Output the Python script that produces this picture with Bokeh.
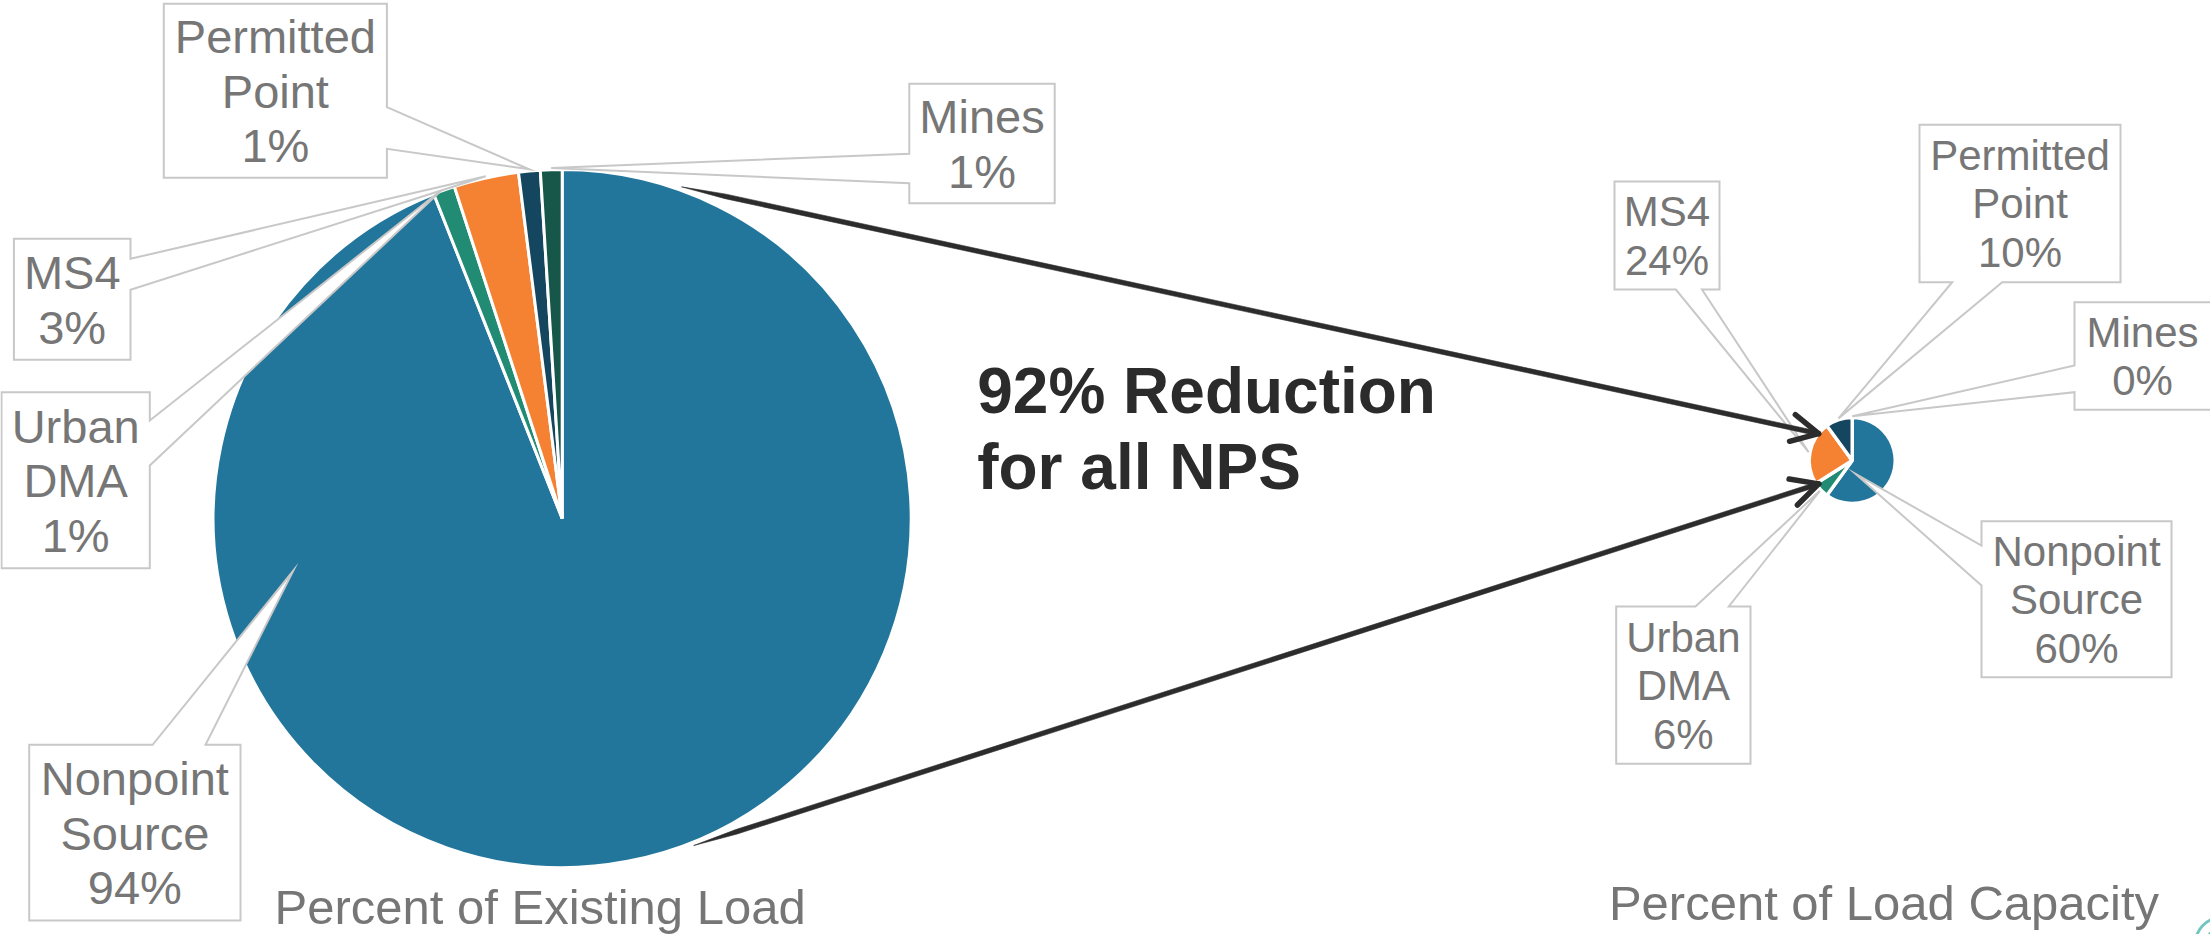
import math

from bokeh.core.properties import value
from bokeh.embed import file_html
from bokeh.models import ColumnDataSource, Range1d
from bokeh.plotting import figure
from bokeh.resources import INLINE

W, H = 2210, 934

# ---- data -------------------------------------------------------------
categories = ["Nonpoint Source", "Urban DMA", "MS4", "Permitted Point", "Mines"]
label_lines = [["Nonpoint", "Source"], ["Urban", "DMA"], ["MS4"], ["Permitted", "Point"], ["Mines"]]
existing_load_pct = [94, 1, 3, 1, 1]
load_capacity_pct = [60, 6, 24, 10, 0]
slice_colors = ["#23769B", "#228B74", "#F58233", "#15465F", "#16574A"]
reduction_text = ["92% Reduction", "for all NPS"]
chart_titles = ["Percent of Existing Load", "Percent of Load Capacity"]

FONT = "Liberation Sans"
LABEL_GRAY = "#767676"
BOX_GRAY = "#C8C8C8"
ARROW_COLOR = "#2C2C2C"
BASELINE_FIX = 0.35  # the renderer puts the text centre on y; move it up to land on the baseline

# ---- layout (screen pixels, y downwards) ------------------------------
existing_pie = dict(cx=561.7, cy=518.0, r=349.0, border=3.0, font=47, spacing=54.5, tip_frac=1.005)
capacity_pie = dict(cx=1851.7, cy=460.0, r=43.0, border=3.4, font=42, spacing=48.5, tip_frac=1.03)

# box = (left, top, right, bottom); edge and base give where the pointer leaves the box;
# tip = optional (clock angle, radius fraction) where the pointer ends
existing_callouts = [
    dict(box=(28.7, 744.3, 240.0, 920.0), edge="top", base=(152.1, 205.0), tip=(259.0, 0.785)),
    dict(box=(1.0, 391.7, 149.3, 567.7), edge="right", base=(420.0, 465.0), tip=None),
    dict(box=(13.4, 238.3, 130.0, 359.3), edge="right", base=(258.3, 289.3), tip=None),
    dict(box=(163.3, 3.3, 386.4, 177.3), edge="right", base=(106.7, 148.3), tip=None),
    dict(box=(908.8, 83.3, 1054.2, 202.7), edge="left", base=(153.3, 182.7), tip=None),
]
capacity_callouts = [
    dict(box=(1981.0, 520.7, 2171.0, 676.7), edge="left", base=(545.0, 585.0), tip=(166.0, 0.32)),
    dict(box=(1615.7, 606.0, 1750.0, 763.3), edge="top", base=(1695.0, 1728.3), tip=None),
    dict(box=(1614.0, 181.0, 1719.0, 289.0), edge="bottom", base=(1675.4, 1701.5), tip=None),
    dict(box=(1919.0, 124.3, 2120.0, 281.7), edge="bottom", base=(1951.7, 2001.7), tip=None),
    dict(box=(2074.0, 301.7, 2216.0, 409.3), edge="left", base=(365.0, 391.7), tip=None),
]

# arrows: (clock angle, radius fraction) on the large pie -> same on the small pie
arrow_paths = [((19.8, 1.01), (308.6, 1.0)), ((158.1, 1.01), (235.1, 0.95))]


def polar(cx, cy, r, a_deg):
    """Point at clock angle a (degrees clockwise from 12 o'clock), screen coords."""
    a = math.radians(a_deg)
    return cx + r * math.sin(a), cy - r * math.cos(a)


def flip(ys):
    return [H - y for y in ys]


def text_y(baseline, size):
    return H - (baseline - BASELINE_FIX * size)


p = figure(
    width=W, height=H,
    x_range=Range1d(0, W), y_range=Range1d(0, H),
    output_backend="svg", toolbar_location=None,
    x_axis_location=None, y_axis_location=None,
    min_border=0,
)
p.grid.visible = False
p.outline_line_color = None
p.background_fill_color = "white"
p.border_fill_color = "white"


def draw_pie(cfg, values):
    total = float(sum(values))
    cum = 0.0
    starts, ends, cols, mids = [], [], [], []
    for v, c in zip(values, slice_colors):
        c0 = cum / total
        cum += v
        c1 = cum / total
        mids.append(360.0 * (c0 + c1) / 2.0)
        if v > 0:
            starts.append(math.radians(90.0 - 360.0 * c1))
            ends.append(math.radians(90.0 - 360.0 * c0))
            cols.append(c)
    src = ColumnDataSource(dict(start=starts, end=ends, color=cols))
    p.wedge(x=cfg["cx"], y=H - cfg["cy"], radius=cfg["r"],
            start_angle="start", end_angle="end", fill_color="color",
            line_color="white", line_width=cfg["border"], source=src)
    return mids


def callout_polygon(box, edge, base, tip):
    x0, y0, x1, y1 = box
    b0, b1 = base
    tx, ty = tip
    if edge == "top":
        pts = [(x0, y0), (b0, y0), (tx, ty), (b1, y0), (x1, y0), (x1, y1), (x0, y1)]
    elif edge == "right":
        pts = [(x0, y0), (x1, y0), (x1, b0), (tx, ty), (x1, b1), (x1, y1), (x0, y1)]
    elif edge == "bottom":
        pts = [(x0, y0), (x1, y0), (x1, y1), (b1, y1), (tx, ty), (b0, y1), (x0, y1)]
    else:
        pts = [(x0, y0), (x1, y0), (x1, y1), (x0, y1), (x0, b1), (tx, ty), (x0, b0)]
    return [q[0] for q in pts], flip([q[1] for q in pts])


def draw_callouts(cfg, values, mids, callouts):
    xs, ys = [], []
    tx, ty, tt = [], [], []
    f, s = cfg["font"], cfg["spacing"]
    for i, co in enumerate(callouts):
        if co["tip"] is None:
            tip = polar(cfg["cx"], cfg["cy"], cfg["r"] * cfg["tip_frac"], mids[i])
        else:
            tip = polar(cfg["cx"], cfg["cy"], cfg["r"] * co["tip"][1], co["tip"][0])
        px, py = callout_polygon(co["box"], co["edge"], co["base"], tip)
        xs.append(px)
        ys.append(py)
        lines = label_lines[i] + ["%d%%" % values[i]]
        x0, y0, x1, y1 = co["box"]
        bx, by = (x0 + min(x1, W)) / 2.0, (y0 + y1) / 2.0
        n = len(lines)
        for k, line in enumerate(lines):
            tx.append(bx)
            ty.append(text_y(by + (k - (n - 1) / 2.0) * s + 0.36 * f, f))
            tt.append(line)
    p.patches(xs=xs, ys=ys, fill_color="white", line_color=BOX_GRAY,
              line_width=2, line_join="miter")
    p.text(x=tx, y=ty, text=tt, text_font=value(FONT), text_font_size=value("%dpx" % f),
           text_color=LABEL_GRAY, text_align="center", text_baseline="alphabetic")


mids_existing = draw_pie(existing_pie, existing_load_pct)
mids_capacity = draw_pie(capacity_pie, load_capacity_pct)
draw_callouts(existing_pie, existing_load_pct, mids_existing, existing_callouts)
draw_callouts(capacity_pie, load_capacity_pct, mids_capacity, capacity_callouts)

# ---- arrows from the existing-load pie to the load-capacity pie ---------
body_w = 4.6
for (a0, f0), (a1, f1) in arrow_paths:
    sx, sy = polar(existing_pie["cx"], existing_pie["cy"], existing_pie["r"] * f0, a0)
    ex, ey = polar(capacity_pie["cx"], capacity_pie["cy"], capacity_pie["r"] * f1, a1)
    L = math.hypot(ex - sx, ey - sy)
    dx, dy = (ex - sx) / L, (ey - sy) / L
    nx, ny = -dy, dx
    taper = 45.0
    mx, my = sx + dx * taper, sy + dy * taper
    hw = body_w / 2.0
    bx = [sx, mx + nx * hw, ex - dx * 2 + nx * hw, ex - dx * 2 - nx * hw, mx - nx * hw]
    by = [sy, my + ny * hw, ey - dy * 2 + ny * hw, ey - dy * 2 - ny * hw, my - ny * hw]
    p.patch(x=bx, y=flip(by), fill_color=ARROW_COLOR, line_color=ARROW_COLOR, line_width=0.6)
    arm, half = 30.0, math.radians(27.0)
    heads_x, heads_y = [], []
    for sgn in (1, -1):
        cx_ = -dx * math.cos(half) + sgn * nx * math.sin(half)
        cy_ = -dy * math.cos(half) + sgn * ny * math.sin(half)
        heads_x.append([ex + cx_ * arm, ex])
        heads_y.append(flip([ey + cy_ * arm, ey]))
    p.multi_line(xs=heads_x, ys=heads_y, line_color=ARROW_COLOR, line_width=5.5,
                 line_cap="round", line_join="round")

# ---- annotation text ----------------------------------------------------
p.text(x=[976.7, 976.7], y=[text_y(412.5, 64), text_y(489.0, 64)], text=reduction_text,
       text_font=value(FONT), text_font_size=value("64px"), text_font_style="bold",
       text_color="#2B2B2B", text_align="left", text_baseline="alphabetic")

p.text(x=[539.6, 1883.5], y=[text_y(923.3, 49), text_y(919.3, 49)], text=chart_titles,
       text_font=value(FONT), text_font_size=value("49px"),
       text_color=LABEL_GRAY, text_align="center", text_baseline="alphabetic")

# small corner emblem fragment
p.arc(x=[2224, 2226], y=[-12, -14], radius=[30, 22], start_angle=math.radians(108),
      end_angle=math.radians(160), line_color="#72C6BD", line_width=3)

open("out.html", "w").write(file_html(p, INLINE))
